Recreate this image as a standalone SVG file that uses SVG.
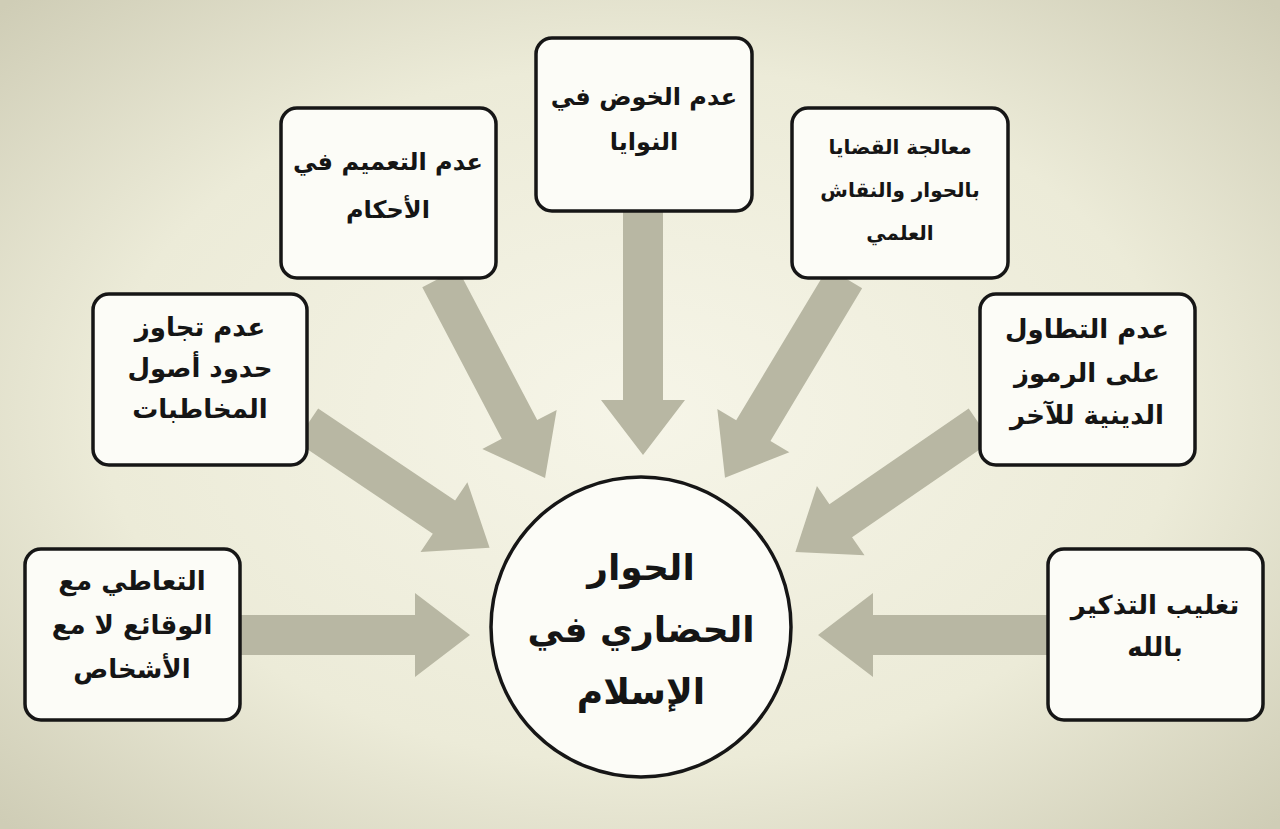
<svg xmlns="http://www.w3.org/2000/svg" width="1280" height="829" viewBox="0 0 1280 829">
<defs>
<radialGradient id="bg" cx="50%" cy="50%" r="70%">
<stop offset="0" stop-color="#f6f5e8"/><stop offset="0.6" stop-color="#ecebd8"/><stop offset="1" stop-color="#cfcdb6"/>
</radialGradient>
<style>
.box{fill:#fcfcf7;stroke:#161616;stroke-width:3.5}
.arr{fill:#b8b7a3}
text{font-family:"DejaVu Sans",sans-serif;font-weight:bold;fill:#151515;text-anchor:middle;direction:rtl;font-size:26px}
.md{font-size:24px}
.sm{font-size:20px}
.big{font-size:36px}
</style>
</defs>
<rect width="1280" height="829" fill="url(#bg)"/>
<g id="connectors">
<polygon class="arr" transform="translate(643,211) rotate(90)" points="0,-20 189,-20 189,-42 244,0 189,42 189,20 0,20"/>
<polygon class="arr" transform="translate(440,278) rotate(62.3)" points="0,-20 171,-20 171,-42 226,0 171,42 171,20 0,20"/>
<polygon class="arr" transform="translate(845,278) rotate(121)" points="0,-20 178,-20 178,-42 233,0 178,42 178,20 0,20"/>
<polygon class="arr" transform="translate(307,425) rotate(33.9)" points="0,-20 165,-20 165,-42 220,0 165,42 165,20 0,20"/>
<polygon class="arr" transform="translate(980,425) rotate(145.5)" points="0,-20 169,-20 169,-42 224,0 169,42 169,20 0,20"/>
<polygon class="arr" transform="translate(240,635)" points="0,-20 175,-20 175,-42 230,0 175,42 175,20 0,20"/>
<polygon class="arr" transform="translate(1048,635) rotate(180)" points="0,-20 175,-20 175,-42 230,0 175,42 175,20 0,20"/>
</g>
<g id="center"><circle cx="641" cy="627" r="150" class="box" stroke-width="4"/>
<text class="big" x="641" y="580">الحوار</text><text class="big" x="641" y="642">الحضاري في</text><text class="big" x="641" y="704">الإسلام</text></g>
<g id="n1"><rect class="box" x="536" y="38" width="216" height="173" rx="16"/><text class="md" x="644" y="105">عدم الخوض في</text><text class="md" x="644" y="150">النوايا</text></g>
<g id="n2"><rect class="box" x="281" y="108" width="215" height="170" rx="16"/><text class="md" x="388" y="170">عدم التعميم في</text><text class="md" x="388" y="218">الأحكام</text></g>
<g id="n3"><rect class="box" x="792" y="108" width="216" height="170" rx="16"/><text class="sm" x="900" y="154">معالجة القضايا</text><text class="sm" x="900" y="197">بالحوار والنقاش</text><text class="sm" x="900" y="240">العلمي</text></g>
<g id="n4"><rect class="box" x="93" y="294" width="214" height="171" rx="16"/><text x="200" y="336">عدم تجاوز</text><text x="200" y="377">حدود أصول</text><text x="200" y="418">المخاطبات</text></g>
<g id="n5"><rect class="box" x="980" y="294" width="215" height="171" rx="16"/><text x="1087" y="338">عدم التطاول</text><text x="1087" y="382">على الرموز</text><text x="1087" y="424">الدينية للآخر</text></g>
<g id="n6"><rect class="box" x="25" y="549" width="215" height="171" rx="16"/><text x="132" y="590">التعاطي مع</text><text x="132" y="634">الوقائع لا مع</text><text x="132" y="678">الأشخاص</text></g>
<g id="n7"><rect class="box" x="1048" y="549" width="215" height="171" rx="16"/><text x="1155" y="614">تغليب التذكير</text><text x="1155" y="656">بالله</text></g>
</svg>
